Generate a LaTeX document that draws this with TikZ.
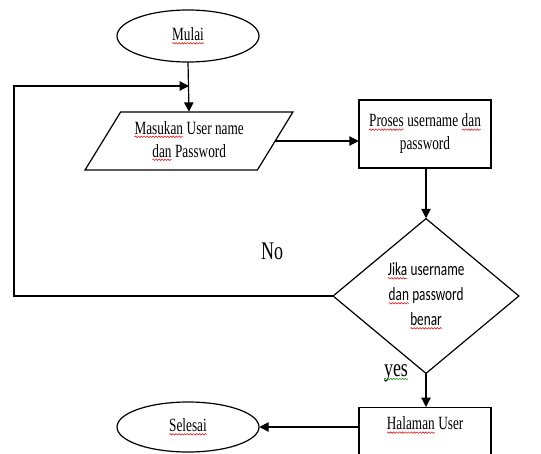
\documentclass[tikz,border=0pt]{standalone}
\usepackage{fontspec}
\setmainfont[FakeStretch=0.71]{Liberation Serif}
\newfontfamily\calfont[FakeStretch=0.71]{Carlito}
\usetikzlibrary{shapes.geometric,arrows.meta,decorations.pathmorphing}
\definecolor{spellred}{RGB}{220,30,30}
\definecolor{spellgreen}{RGB}{40,150,40}
\newcommand\squig[2][spellred]{\tikz[baseline=(w.base)]{\node[shape=rectangle,draw=none,fill=none,
    inner sep=0pt,outer sep=0pt,minimum size=0pt,text height=,text depth=,anchor=center,font=] (w) {#2};
  \draw[#1,line width=0.45pt,decorate,decoration={snake,amplitude=0.55pt,segment length=2.2pt}]
    ([yshift=-2pt]w.base west) -- ([yshift=-2pt]w.base east);}}
\begin{document}
\begin{tikzpicture}[x=0.75pt,y=-0.75pt,line width=0.9pt,
  every node/.style={font=\fontsize{14}{17.25}\selectfont},
  term/.style={draw,ellipse,minimum width=106.5pt,minimum height=39pt,inner sep=0pt},
  iobox/.style={draw,trapezium,trapezium left angle=55.4,trapezium right angle=124.6,
    trapezium stretches=true,minimum width=156pt,minimum height=43.5pt,inner sep=1pt,align=center},
  procbox/.style={draw,rectangle,minimum width=99pt,minimum height=51pt,align=center},
  decbox/.style={draw,diamond,minimum width=139.5pt,minimum height=116.25pt,inner sep=0pt,
    align=center,font=\calfont\fontsize{14}{18.75}\selectfont},
  bigtxt/.style={font=\fontsize{19}{22}\selectfont},
  arr/.style={-{Triangle[length=7pt,width=7pt]}}]
\useasboundingbox (0,0) rectangle (541,453);

\node[term] (mulai) at (188,36) {\squig{Mulai}};
\node[iobox] (par) at (189,141) {\squig{Masukan} User name\\\squig{dan} Password};
\node[procbox] (pro) at (425,134) {\squig{Proses} username \squig{dan}\\password};
\node[decbox] (dia) at (426,296) {\squig{Jika} username\\\squig{dan} password\\\squig{benar}};
\node[draw,rectangle,minimum width=99pt,anchor=north,inner ysep=8pt,text height=9pt,text depth=26pt] (hal) at (425,407) {\squig{Halaman} User};
\node[term,minimum height=37.5pt] (sel) at (188,427) {\squig{Selesai}};
\node[bigtxt] (no) at (272,251) {No};
\node[bigtxt] (yes) at (396,373) {\squig[spellgreen]{yes}};

\coordinate (j) at (189,86);
\coordinate (lc) at (14,86);

\draw[arr] (mulai.south) -- (par.north);
\draw[arr] (dia.west) -| (lc) -- (j);
\draw[arr] (par.east) -- (pro.west |- par.east);
\draw[arr] (pro.south -| dia.north) -- (dia.north);
\draw[arr] (dia.south) -- (hal.north -| dia.south);
\draw[arr] (hal.west |- sel.east) -- (sel.east);
\end{tikzpicture}
\end{document}
